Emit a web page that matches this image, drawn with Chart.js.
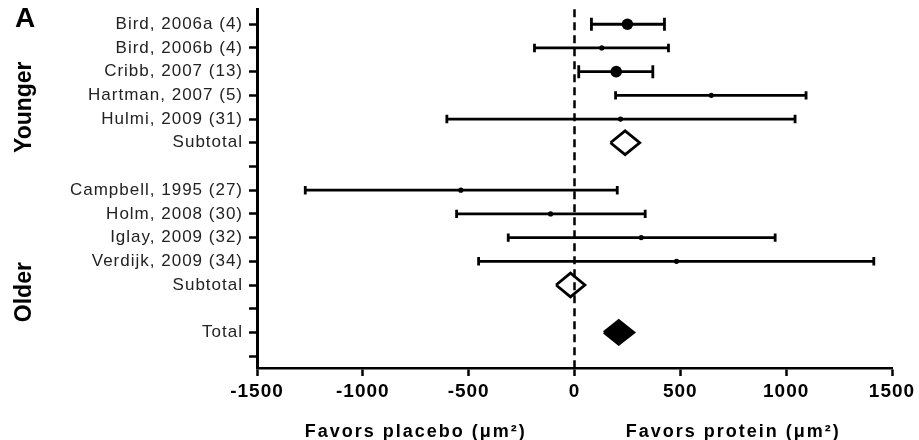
<!DOCTYPE html>
<html>
<head>
<meta charset="utf-8">
<style>
  html, body { margin: 0; padding: 0; background: #fff; }
  canvas { display: block; }
</style>
<script src="https://cdn.jsdelivr.net/npm/chart.js@4.4.1/dist/chart.umd.min.js"></script>
</head>
<body>
<canvas id="forest" width="919" height="440"></canvas>
<script>
// Row labels, top to bottom (blank rows separate the groups)
const rowLabels = [
  'Bird, 2006a (4)', 'Bird, 2006b (4)', 'Cribb, 2007 (13)', 'Hartman, 2007 (5)',
  'Hulmi, 2009 (31)', 'Subtotal', '',
  'Campbell, 1995 (27)', 'Holm, 2008 (30)', 'Iglay, 2009 (32)', 'Verdijk, 2009 (34)',
  'Subtotal', '', 'Total', ''
];

// Individual studies: row index, mean difference and 95% CI (µm²)
const studyRows = [0, 1, 2, 3, 4, 7, 8, 9, 10];
const studyMean = [250, 129, 197, 646, 217, -537, -113, 315, 482];
const studyLow  = [80, -189, 20, 194, -603, -1272, -557, -313, -453];
const studyHigh = [425, 444, 370, 1094, 1042, 202, 334, 948, 1414];

// Pooled estimates: younger subtotal, older subtotal, total
const pooledRows = [5, 11, 13];
const pooledMean = [239, -19, 209];
const pooledLow  = [170, -87, 139];
const pooledHigh = [308, 49, 280];

const xTicks = [-1500, -1000, -500, 0, 500, 1000, 1500];

// Studies carrying the largest weight get the bigger markers
const heavyRows = new Set([0, 2]);

const Y_MIN = -0.63, Y_MAX = 14.5;
const DIAMOND_HALF = 0.5;   // half height of a pooled diamond, in rows
const INK = '#000';

const datasets = [];

// zero line
datasets.push({
  data: [{ x: 0, y: Y_MIN }, { x: 0, y: Y_MAX }],
  showLine: true, borderColor: INK, borderWidth: 2.5, borderDash: [8, 5],
  pointRadius: 0, clip: false
});

// confidence interval lines
studyRows.forEach((r, i) => {
  datasets.push({
    data: [{ x: studyLow[i], y: r }, { x: studyHigh[i], y: r }],
    showLine: true, borderColor: INK, borderWidth: 2.8, pointRadius: 0
  });
});

// interval end caps
const capPoints = [];
studyRows.forEach((r, i) => {
  capPoints.push({ x: studyLow[i], y: r });
  capPoints.push({ x: studyHigh[i], y: r });
});
datasets.push({
  data: capPoints,
  pointStyle: 'line', rotation: 90, borderColor: INK, borderWidth: 2.8,
  pointRadius: ctx => heavyRows.has(ctx.raw ? ctx.raw.y : -1) ? 6.5 : 4.2
});

// point estimates
datasets.push({
  data: studyRows.map((r, i) => ({ x: studyMean[i], y: r })),
  pointStyle: 'circle', backgroundColor: INK, borderColor: INK, borderWidth: 0,
  pointRadius: ctx => heavyRows.has(ctx.raw ? ctx.raw.y : -1) ? 5.8 : 2.6
});

// pooled diamonds (last one filled)
pooledRows.forEach((r, i) => {
  const filled = i === pooledRows.length - 1;
  datasets.push({
    data: [
      { x: pooledLow[i], y: r },
      { x: pooledMean[i], y: r - DIAMOND_HALF },
      { x: pooledHigh[i], y: r },
      { x: pooledMean[i], y: r + DIAMOND_HALF },
      { x: pooledLow[i], y: r }
    ],
    showLine: true, borderColor: INK, borderWidth: 2.8, borderJoinStyle: 'miter',
    backgroundColor: filled ? INK : 'rgba(0,0,0,0)',
    fill: filled ? 'shape' : false,
    pointRadius: 0, tension: 0
  });
});

// slightly open letter spacing for all axis text
const spacing = {
  id: 'spacing',
  beforeDraw(chart) { chart.ctx.letterSpacing = '1px'; },
  afterDraw(chart) { chart.ctx.letterSpacing = '0px'; }
};

// free-standing text: panel letter, group names, direction labels
const annotations = {
  id: 'annotations',
  afterDraw(chart) {
    const { ctx, scales: { x, y } } = chart;
    ctx.save();
    ctx.fillStyle = INK;
    ctx.textAlign = 'center';
    ctx.textBaseline = 'middle';
    ctx.letterSpacing = '0px';

    ctx.font = 'bold 28px "Liberation Sans", Arial, sans-serif';
    ctx.fillText('A', 25, 19);

    ctx.font = 'bold 23px "Liberation Sans", Arial, sans-serif';
    [['Younger', 3.5], ['Older', 11.3]].forEach(([t, v]) => {
      ctx.save();
      ctx.translate(25, y.getPixelForValue(v));
      ctx.rotate(-Math.PI / 2);
      ctx.fillText(t, 0, 0);
      ctx.restore();
    });

    ctx.font = 'bold 18px "Liberation Sans", Arial, sans-serif';
    ctx.letterSpacing = '2px';
    ctx.fillText('Favors placebo (\u03bcm\u00b2)', x.getPixelForValue(-750), 432);
    ctx.fillText('Favors protein (\u03bcm\u00b2)', x.getPixelForValue(750), 432);
    ctx.restore();
  }
};

Chart.defaults.font.family = '"Liberation Sans", Arial, sans-serif';

new Chart(document.getElementById('forest'), {
  type: 'scatter',
  data: { datasets },
  options: {
    responsive: false,
    animation: false,
    layout: { padding: { top: 6, right: 27, left: 0, bottom: 0 } },
    plugins: { legend: { display: false }, tooltip: { enabled: false } },
    scales: {
      x: {
        type: 'linear', min: -1500, max: 1500,
        afterBuildTicks: s => { s.ticks = xTicks.map(v => ({ value: v })); },
        afterFit: s => { s.height = 72; s.paddingLeft = 0; s.paddingRight = 0; },
        grid: { drawOnChartArea: false, tickLength: 8, tickWidth: 2.5, tickColor: INK },
        border: { color: INK, width: 2.5 },
        ticks: {
          color: INK, font: { size: 19, weight: 'bold' }, padding: 4, maxRotation: 0, autoSkip: false,
          callback: v => String(v)
        }
      },
      y: {
        type: 'linear', reverse: true, min: Y_MIN, max: Y_MAX,
        afterBuildTicks: s => { s.ticks = rowLabels.map((_, i) => ({ value: i })); },
        afterFit: s => { s.width = 257; s.paddingTop = 0; s.paddingBottom = 0; },
        grid: { drawOnChartArea: false, tickLength: 8, tickWidth: 2.5, tickColor: INK },
        border: { color: INK, width: 3 },
        ticks: {
          color: '#222', font: { size: 17 }, padding: 6, autoSkip: false,
          callback: v => rowLabels[v] !== undefined ? rowLabels[v] : ''
        }
      }
    }
  },
  plugins: [spacing, annotations]
});
</script>
</body>
</html>
